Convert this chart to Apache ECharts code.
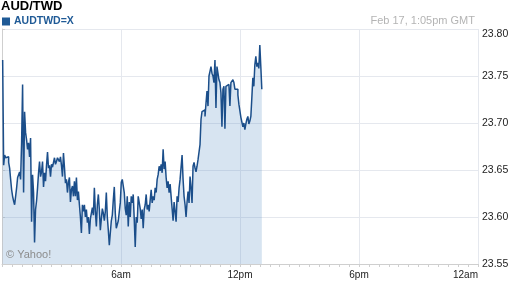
<!DOCTYPE html>
<html>
<head>
<meta charset="utf-8">
<script src="https://cdn.jsdelivr.net/npm/echarts@6/dist/echarts.min.js"></script>
<style>
html,body{margin:0;padding:0;background:#fff;}
#c{width:512px;height:288px;}
</style>
</head>
<body>
<div id="c"></div>
<script>
// ---- data ----
const chartTitle = 'AUD/TWD';
const seriesName = 'AUDTWD=X';
const timestampText = 'Feb 17, 1:05pm GMT';
const creditText = '\u00A9 Yahoo!';
const xTickLabels = ['12am', '6am', '12pm', '6pm', '12am'];
const yTickValues = [23.55, 23.60, 23.65, 23.70, 23.75, 23.80];
const firstMinute = 2;     // first sample, minutes after midnight GMT
const lastMinute = 786;    // last sample (1:06pm)
const rates = [
  23.767, 23.655, 23.666, 23.663, 23.661, 23.664, 23.658, 23.652, 23.640, 23.629,
  23.622, 23.617, 23.613, 23.622, 23.631, 23.642, 23.640, 23.648, 23.640, 23.679,
  23.741, 23.626, 23.712, 23.690, 23.682, 23.672, 23.679, 23.664, 23.684, 23.595,
  23.645, 23.626, 23.573, 23.608, 23.617, 23.631, 23.647, 23.659, 23.643, 23.648,
  23.659, 23.632, 23.647, 23.638, 23.655, 23.669, 23.652, 23.655, 23.643, 23.656,
  23.653, 23.655, 23.663, 23.656, 23.659, 23.663, 23.665, 23.659, 23.664, 23.655,
  23.643, 23.668, 23.653,
  23.636, 23.640, 23.626, 23.637, 23.642, 23.616, 23.629, 23.633, 23.622, 23.638,
  23.622, 23.642, 23.618, 23.627, 23.613, 23.600, 23.583, 23.613, 23.606, 23.613,
  23.600, 23.608, 23.594, 23.600, 23.582, 23.598, 23.604, 23.610, 23.602, 23.631,
  23.606, 23.590, 23.613, 23.624, 23.608, 23.586, 23.598, 23.609, 23.604, 23.596,
  23.606, 23.626, 23.600, 23.586, 23.570, 23.583, 23.596, 23.602, 23.618, 23.632,
  23.604, 23.588, 23.586, 23.596, 23.598, 23.615, 23.637, 23.640, 23.642, 23.626,
  23.609, 23.602, 23.622, 23.590, 23.616,
  23.600, 23.622, 23.615, 23.624, 23.598, 23.568, 23.600, 23.594, 23.622, 23.624,
  23.609, 23.598, 23.608, 23.588, 23.608, 23.613, 23.624, 23.608, 23.613, 23.606,
  23.618, 23.629, 23.615, 23.622, 23.618, 23.631, 23.626, 23.640, 23.645, 23.654,
  23.649, 23.656, 23.647, 23.672, 23.651, 23.659, 23.642, 23.631, 23.638, 23.626,
  23.635, 23.622, 23.609, 23.596, 23.616, 23.606, 23.595, 23.622, 23.616, 23.631,
  23.640, 23.638, 23.666, 23.640, 23.622, 23.613, 23.600, 23.616, 23.627, 23.615,
  23.643, 23.631, 23.615, 23.654, 23.658,
  23.652, 23.648, 23.654, 23.661, 23.663, 23.677, 23.704, 23.712, 23.712, 23.714,
  23.707, 23.721, 23.734, 23.718, 23.750, 23.755, 23.760, 23.753, 23.750, 23.743,
  23.767, 23.716, 23.760, 23.753, 23.746, 23.743, 23.732, 23.696, 23.736, 23.739,
  23.694, 23.739, 23.737, 23.741, 23.741, 23.718, 23.743, 23.741, 23.746, 23.743,
  23.736, 23.734, 23.736, 23.730, 23.720, 23.718, 23.706, 23.704, 23.696, 23.700,
  23.693, 23.699, 23.704, 23.707, 23.699, 23.702, 23.707, 23.727, 23.748, 23.739,
  23.762, 23.771, 23.760, 23.764, 23.758, 23.783, 23.760, 23.736
];

// ---- build ----
const stepMinutes = (lastMinute - firstMinute) / (rates.length - 1);
const seriesData = rates.map((v, i) => [firstMinute + i * stepMinutes, v]);

const chart = echarts.init(document.getElementById('c'), null, {renderer: 'canvas'});
const fontFam = '"Liberation Sans", Arial, sans-serif';
chart.setOption({
  animation: false,
  backgroundColor: '#ffffff',
  textStyle: {fontFamily: fontFam},
  title: [
    {text: chartTitle, left: 1, top: 0, padding: 0,
     textStyle: {fontSize: 13, fontWeight: 'bold', color: '#000', fontFamily: fontFam}},
    {text: timestampText, right: 37, top: 15, padding: 0,
     textStyle: {fontSize: 11, fontWeight: 'normal', color: '#b4b4b4', fontFamily: fontFam}},
    {text: creditText, left: 6, top: 249, padding: 0,
     textStyle: {fontSize: 11, fontWeight: 'normal', color: '#8c8c8c', fontFamily: fontFam}}
  ],
  legend: {
    left: 2, top: 16, padding: 0,
    itemWidth: 8, itemHeight: 8, icon: 'rect',
    textStyle: {fontSize: 10.5, fontWeight: 'bold', color: '#1f5a96', fontFamily: fontFam, padding: [0, 0, 0, -1]},
    data: [{name: seriesName, itemStyle: {color: '#1f5a96'}}]
  },
  grid: {left: 2, right: 34, top: 29, bottom: 24, containLabel: false},
  xAxis: {
    type: 'value', min: 0, max: 1440, interval: 360,
    axisLine: {show: true, lineStyle: {color: '#cfcfcf', width: 1}},
    axisTick: {show: true, length: 3, lineStyle: {color: '#cfcfcf'}},
    minorTick: {show: true, splitNumber: 12, length: 3, lineStyle: {color: '#cfcfcf'}},
    splitLine: {show: true, lineStyle: {color: '#e5e8ee', width: 1}},
    axisLabel: {
      showMinLabel: false, alignMaxLabel: 'right', margin: 6,
      fontSize: 10, color: '#222', fontFamily: fontFam,
      formatter: v => xTickLabels[Math.round(v / 360)]
    }
  },
  yAxis: {
    type: 'value', position: 'right', min: 23.55, max: 23.80, interval: 0.05,
    axisLine: {show: true, lineStyle: {color: '#cfcfcf', width: 1}},
    axisTick: {show: true, length: 3, lineStyle: {color: '#cfcfcf'}},
    splitLine: {show: true, lineStyle: {color: '#e5e8ee', width: 1}},
    axisLabel: {
      margin: 4, fontSize: 10.5, color: '#222', fontFamily: fontFam,
      verticalAlignMaxLabel: 'top',
      formatter: v => {
        const hit = yTickValues.find(t => Math.abs(t - v) < 1e-6);
        return (hit !== undefined ? hit : v).toFixed(2);
      }
    }
  },
  series: [{
    name: seriesName,
    type: 'line',
    data: seriesData,
    step: 'end',
    showSymbol: false,
    symbol: 'none',
    lineStyle: {color: '#1b4e8a', width: 1.5},
    itemStyle: {color: '#1f5a96'},
    areaStyle: {color: 'rgba(80,140,195,0.23)', opacity: 1, origin: 'start'}
  }]
});
</script>
</body>
</html>
